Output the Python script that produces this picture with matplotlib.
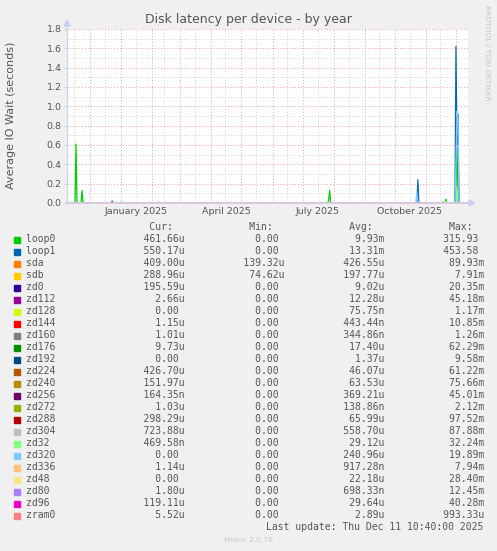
import numpy as np
import matplotlib
matplotlib.use('Agg')
import matplotlib.pyplot as plt
import matplotlib.dates as mdates
from matplotlib.patches import Rectangle, Polygon
from matplotlib.lines import Line2D

W, H = 497, 551

# time range of the yearly graph
start_day = np.datetime64('2024-11-08')
end_day = np.datetime64('2025-12-13')

# daily averages that stand out from zero (everything else is 0)
loop0_dates = ['2024-11-17', '2024-11-23', '2024-11-24', '2025-01-01', '2025-02-07',
               '2025-07-27', '2025-07-28', '2025-11-18', '2025-11-21',
               '2025-12-01', '2025-12-02', '2025-12-03']
loop0_vals = [0.61, 0.13, 0.01, 0.01, 0.01,
              0.03, 0.13, 0.01, 0.04,
              0.2, 0.57, 0.12]

loop1_dates = ['2024-12-23', '2025-10-24', '2025-12-01', '2025-12-02', '2025-12-03']
loop1_vals = [0.02, 0.24, 1.62, 0.6, 0.92]

zd320_dates = ['2025-10-23', '2025-12-01', '2025-12-02', '2025-12-03']
zd320_vals = [0.12, 0.4, 0.95, 0.85]

zd304_dates = ['2025-12-02']
zd304_vals = [0.12]

zd32_dates = ['2025-11-21', '2025-12-02']
zd32_vals = [0.02, 0.15]

# legend table
names = ['loop0', 'loop1', 'sda', 'sdb', 'zd0', 'zd112', 'zd128', 'zd144', 'zd160',
         'zd176', 'zd192', 'zd224', 'zd240', 'zd256', 'zd272', 'zd288', 'zd304',
         'zd32', 'zd320', 'zd336', 'zd48', 'zd80', 'zd96', 'zram0']
colors = ['#00cc00', '#0066b3', '#ff8000', '#ffcc00', '#330099', '#990099', '#ccff00',
          '#ff0000', '#808080', '#008f00', '#00487d', '#b35a00', '#b38f00', '#6b006b',
          '#8fb300', '#b30000', '#bebebe', '#80ff80', '#80c9ff', '#ffc080', '#ffe680',
          '#aa80ff', '#ee00cc', '#ff8080']
cur = ['461.66u', '550.17u', '409.00u', '288.96u', '195.59u', '2.66u', '0.00', '1.15u',
       '1.01u', '9.73u', '0.00', '426.70u', '151.97u', '164.35n', '1.03u', '298.29u',
       '723.88u', '469.58n', '0.00', '1.14u', '0.00', '1.80u', '119.11u', '5.52u']
mins = ['0.00', '0.00', '139.32u', '74.62u'] + ['0.00'] * 20
avg = ['9.93m', '13.31m', '426.55u', '197.77u', '9.02u', '12.28u', '75.75n', '443.44n',
       '344.86n', '17.40u', '1.37u', '46.07u', '63.53u', '369.21u', '138.86n', '65.99u',
       '558.70u', '29.12u', '240.96u', '917.28n', '22.18u', '698.33n', '29.64u', '2.89u']
maxs = ['315.93', '453.58', '89.93m', '7.91m', '20.35m', '45.18m', '1.17m', '10.85m',
        '1.26m', '62.29m', '9.58m', '61.22m', '75.66m', '45.01m', '2.12m', '97.52m',
        '87.88m', '32.24m', '19.89m', '7.94m', '28.40m', '12.45m', '40.28m', '993.33u']

tick_dates = ['2025-01-16', '2025-04-16', '2025-07-16', '2025-10-16']
tick_labels = ['January 2025', 'April 2025', 'July 2025', 'October 2025']

txt_col = '#555555'
axis_col = '#c8d0f4'

days = np.arange(start_day, end_day + 1)
x = mdates.date2num(days.astype('datetime64[D]').astype(object))


def daily(dates, vals):
    y = np.zeros(len(days))
    for d, v in zip(dates, vals):
        y[int((np.datetime64(d) - start_day).astype(int))] = v
    return y


series = {'loop0': daily(loop0_dates, loop0_vals),
          'loop1': daily(loop1_dates, loop1_vals),
          'zd304': daily(zd304_dates, zd304_vals),
          'zd32': daily(zd32_dates, zd32_vals),
          'zd320': daily(zd320_dates, zd320_vals)}

fig = plt.figure(figsize=(W / 100, H / 100), dpi=100, facecolor='#f0f0f0')
ax = fig.add_axes([67 / W, 1 - 203 / H, 401 / W, 174 / H])
ax.set_facecolor('white')

# grid
months = np.arange(np.datetime64('2024-12'), np.datetime64('2026-01'), dtype='datetime64[M]')
for m in months:
    xm = mdates.date2num(m.astype('datetime64[D]').astype(object))
    ax.axvline(xm, color='#e9a0a0', lw=0.7, ls=(0, (1, 2)), zorder=1)
    xh = mdates.date2num((m.astype('datetime64[D]') - 16).astype(object))
    ax.axvline(xh, color='#d0d0d0', lw=0.7, ls=(0, (1, 2)), zorder=0.9)
for v in np.arange(0, 1.81, 0.2):
    ax.axhline(v, color='#e9a0a0', lw=0.7, ls=(0, (1, 2)), zorder=1)
for v in np.arange(0.1, 1.8, 0.2):
    ax.axhline(v, color='#d0d0d0', lw=0.7, ls=(0, (1, 2)), zorder=0.9)

for n, c in zip(names, colors):
    if n in series:
        ax.plot(x, series[n], color=c, lw=0.9, zorder=2)

ax.set_xlim(x[0], x[-1])
ax.set_ylim(0, 1.8)
ax.set_yticks(np.arange(0, 1.81, 0.2))
ax.set_yticklabels(['%.1f' % v for v in np.arange(0, 1.81, 0.2)])
tx = mdates.date2num([np.datetime64(d).astype(object) for d in tick_dates])
ax.set_xticks(tx)
ax.set_xticklabels(tick_labels)
ax.tick_params(axis='both', length=0, labelsize=6.8, colors=txt_col, pad=3)
ax.tick_params(axis='y', length=2, color=axis_col, pad=2)
for s in ax.spines.values():
    s.set_visible(False)

# axes with arrows
fig.add_artist(Line2D([67 / W, 67 / W], [1 - 203 / H, 1 - 24 / H], color=axis_col, lw=0.8))
fig.add_artist(Line2D([67 / W, 470 / W], [1 - 203 / H, 1 - 203 / H], color='#dcc4dc', lw=1.3))
fig.add_artist(Polygon([[64 / W, 1 - 26 / H], [70 / W, 1 - 26 / H], [67 / W, 1 - 20 / H]],
                       closed=True, color=axis_col, transform=fig.transFigure))
fig.add_artist(Polygon([[469 / W, 1 - 200 / H], [469 / W, 1 - 206 / H], [475 / W, 1 - 203 / H]],
                       closed=True, color=axis_col, transform=fig.transFigure))

fig.text(248 / W, 1 - 19 / H, 'Disk latency per device - by year', ha='center', va='center',
         fontsize=9, color=txt_col)
fig.text(11 / W, 1 - 115 / H, 'Average IO Wait (seconds)', rotation=90, ha='center',
         va='center', fontsize=8, color=txt_col)
fig.text(487 / W, 1 - 53 / H, 'RRDTOOL / TOBI OETIKER', rotation=270, ha='center',
         va='center', fontsize=5.4, color='#c4c4c4')

# legend block
mono = 'DejaVu Sans Mono'
header = 'Cur:'.rjust(25) + 'Min:'.rjust(17) + 'Avg:'.rjust(17) + 'Max:'.rjust(17)
fig.text(26.3 / W, 1 - 227 / H, header, family=mono, fontsize=7, color=txt_col, va='center')


def cell(s):
    return s if s[-1].isalpha() else s + ' '


for i, n in enumerate(names):
    yy = 239.5 + 12 * i
    fig.add_artist(Rectangle((14 / W, 1 - (yy + 3) / H), 6 / W, 6 / H, color=colors[i],
                             transform=fig.transFigure))
    row = n.ljust(10) + cell(cur[i]).rjust(17) + cell(mins[i]).rjust(17) \
        + cell(avg[i]).rjust(17) + cell(maxs[i]).rjust(17)
    fig.text(26.3 / W, 1 - yy / H, row, family=mono, fontsize=7, color=txt_col, va='center')

fig.text(483 / W, 1 - 527 / H, 'Last update: Thu Dec 11 10:40:00 2025', family=mono,
         fontsize=7, color=txt_col, ha='right', va='center')
fig.text(248 / W, 1 - 540 / H, 'Munin 2.0.76', fontsize=5.4, color='#c8c8c8',
         ha='center', va='center')

fig.savefig('out.png', dpi=100, facecolor=fig.get_facecolor())
